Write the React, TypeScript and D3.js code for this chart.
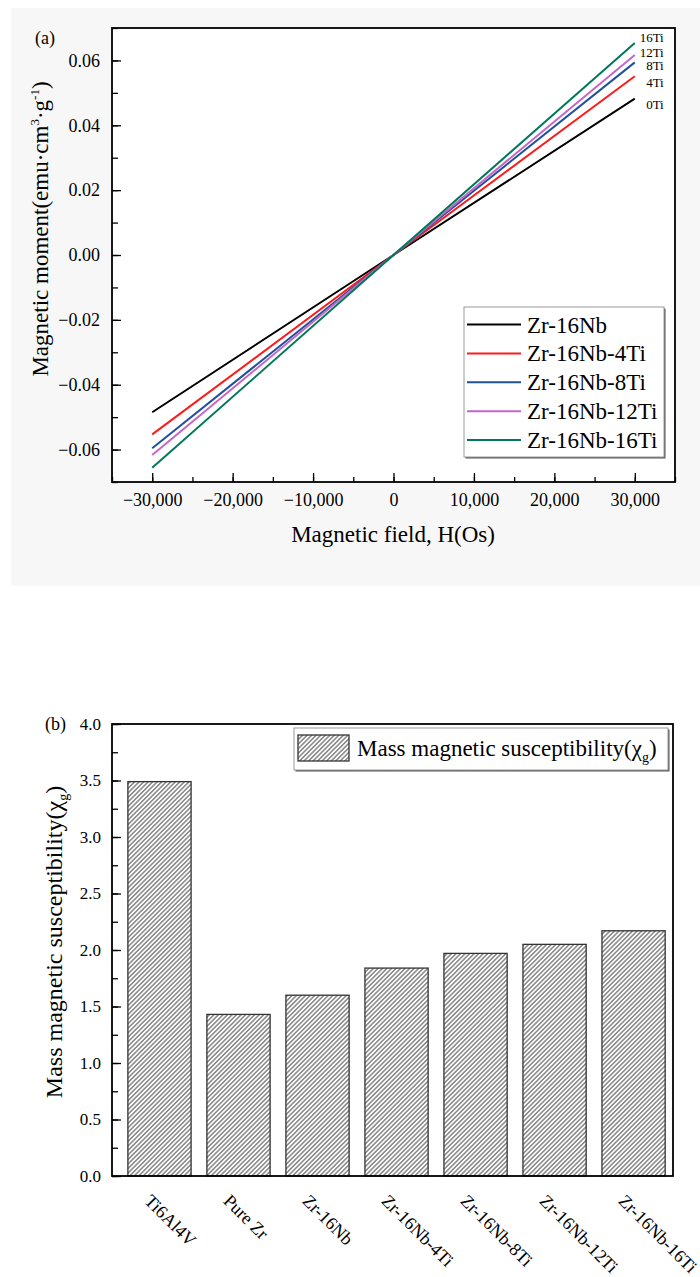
import { useEffect, useRef } from "react";
import * as d3 from "d3";

// (a) magnetisation curves, M vs H
const fieldPoints = [-30000, 0, 30000];
const seriesNames = ["Zr-16Nb", "Zr-16Nb-4Ti", "Zr-16Nb-8Ti", "Zr-16Nb-12Ti", "Zr-16Nb-16Ti"];
const endLabels = ["0Ti", "4Ti", "8Ti", "12Ti", "16Ti"];
const moment0Ti = [-0.0485, 0, 0.0482];
const moment4Ti = [-0.0553, 0, 0.0551];
const moment8Ti = [-0.0596, 0, 0.0594];
const moment12Ti = [-0.0617, 0, 0.0617];
const moment16Ti = [-0.0656, 0, 0.0654];
const fieldTicks = [-30000, -20000, -10000, 0, 10000, 20000, 30000];
const momentTicks = [-0.06, -0.04, -0.02, 0, 0.02, 0.04, 0.06];

// (b) mass magnetic susceptibility
const alloys = ["Ti6Al4V", "Pure Zr", "Zr-16Nb", "Zr-16Nb-4Ti", "Zr-16Nb-8Ti", "Zr-16Nb-12Ti", "Zr-16Nb-16Ti"];
const susceptibility = [3.49, 1.43, 1.6, 1.84, 1.97, 2.05, 2.17];
const chiTicks = [0, 0.5, 1, 1.5, 2, 2.5, 3, 3.5, 4];

const colors = ["#000000", "#ff1a1a", "#1f519c", "#c466c4", "#00785a"];
const FONT = "'Liberation Serif', 'Times New Roman', serif";

const App = () => {
  const svgRef = useRef<SVGSVGElement>(null);

  useEffect(() => {
    const svg = d3.select(svgRef.current);
    svg.selectAll("*").remove();
    svg.style("font-family", FONT);

    const defs = svg.append("defs");
    const hatch = defs
      .append("pattern")
      .attr("id", "hatch")
      .attr("patternUnits", "userSpaceOnUse")
      .attr("width", 3.2)
      .attr("height", 3.2)
      .attr("patternTransform", "rotate(45)");
    hatch.append("rect").attr("width", 3.2).attr("height", 3.2).attr("fill", "#fff");
    hatch
      .append("line")
      .attr("x1", 1.6)
      .attr("x2", 1.6)
      .attr("y1", 0)
      .attr("y2", 3.2)
      .attr("stroke", "#333")
      .attr("stroke-width", 0.9);

    // ---------- panel (a) ----------
    const a = { left: 112, right: 675, top: 28, bottom: 482 };
    svg.append("rect").attr("x", 11).attr("y", 8).attr("width", 689).attr("height", 578).attr("fill", "#f7f7f7");
    svg
      .append("rect")
      .attr("x", a.left)
      .attr("y", a.top)
      .attr("width", a.right - a.left)
      .attr("height", a.bottom - a.top)
      .attr("fill", "#fff");

    const x = d3.scaleLinear().domain([-35000, 35000]).range([a.left, a.right]);
    const y = d3.scaleLinear().domain([-0.07, 0.07]).range([a.bottom, a.top]);

    const styleAxis = (g, size) => {
      g.select(".domain").remove();
      g.attr("font-family", FONT).attr("font-size", size);
      g.selectAll("line").attr("stroke", "#000").attr("stroke-width", 1.3);
      g.selectAll("text").attr("fill", "#000").attr("font-family", FONT);
    };

    svg
      .append("g")
      .attr("transform", `translate(0,${a.bottom})`)
      .call(d3.axisBottom(x).tickValues(d3.range(-35000, 35001, 5000)).tickSize(-5).tickFormat(() => ""))
      .call((g) => styleAxis(g, 18));
    svg
      .append("g")
      .attr("transform", `translate(0,${a.bottom})`)
      .call(d3.axisBottom(x).tickValues(fieldTicks).tickSize(-9).tickPadding(11).tickFormat(d3.format(",")))
      .call((g) => styleAxis(g, 18));

    svg
      .append("g")
      .attr("transform", `translate(${a.left},0)`)
      .call(d3.axisLeft(y).tickValues(d3.range(-7, 8).map((d) => d / 100)).tickSize(-6).tickFormat(() => ""))
      .call((g) => styleAxis(g, 18));
    svg
      .append("g")
      .attr("transform", `translate(${a.left},0)`)
      .call(d3.axisLeft(y).tickValues(momentTicks).tickSize(-9).tickPadding(12).tickFormat(d3.format(".2f")))
      .call((g) => styleAxis(g, 18));

    const moments = [moment0Ti, moment4Ti, moment8Ti, moment12Ti, moment16Ti];
    const line = d3
      .line<number>()
      .x((_, i) => x(fieldPoints[i]))
      .y((d) => y(d));
    moments.forEach((m, i) => {
      svg
        .append("path")
        .datum(m)
        .attr("fill", "none")
        .attr("stroke", colors[i])
        .attr("stroke-width", 2)
        .attr("d", line);
    });

    // end-of-line labels, placed in data units just right of the line ends
    const labelY = [0.0463, 0.0531, 0.0583, 0.0625, 0.0671];
    endLabels.forEach((t, i) => {
      svg
        .append("text")
        .attr("x", x(33600))
        .attr("y", y(labelY[i]))
        .attr("dy", "0.35em")
        .attr("text-anchor", "end")
        .attr("font-size", 13)
        .text(t);
    });

    svg
      .append("rect")
      .attr("x", a.left)
      .attr("y", a.top)
      .attr("width", a.right - a.left)
      .attr("height", a.bottom - a.top)
      .attr("fill", "none")
      .attr("stroke", "#000")
      .attr("stroke-width", 1.8);

    // legend
    const lg = svg.append("g").attr("transform", "translate(464,307)");
    lg.append("rect").attr("x", 1.5).attr("y", 1.5).attr("width", 200).attr("height", 150).attr("fill", "#555");
    lg.append("rect").attr("width", 200).attr("height", 150).attr("fill", "#fff").attr("stroke", "#999").attr("stroke-width", 1);
    seriesNames.forEach((n, i) => {
      const ry = 17.5 + i * 28.9;
      lg.append("line").attr("x1", 3).attr("x2", 57).attr("y1", ry).attr("y2", ry).attr("stroke", colors[i]).attr("stroke-width", 2);
      lg.append("text").attr("x", 63).attr("y", ry).attr("dy", "0.35em").attr("font-size", 23).text(n);
    });

    svg.append("text").attr("x", 35).attr("y", 44).attr("font-size", 18).text("(a)");

    svg
      .append("text")
      .attr("x", (a.left + a.right) / 2 - 0.5)
      .attr("y", 542)
      .attr("text-anchor", "middle")
      .attr("font-size", 23)
      .text("Magnetic field, H(Os)");

    const yt = svg
      .append("text")
      .attr("transform", "translate(48,229) rotate(-90)")
      .attr("text-anchor", "middle")
      .attr("font-size", 23);
    yt.append("tspan").text("Magnetic moment(emu·cm");
    yt.append("tspan").attr("dy", -9).attr("font-size", 13).text("3");
    yt.append("tspan").attr("dy", 9).text("·g");
    yt.append("tspan").attr("dy", -9).attr("font-size", 13).text("-1");
    yt.append("tspan").attr("dy", 9).text(")");

    // ---------- panel (b) ----------
    const b = { left: 112, right: 673, top: 724, bottom: 1176 };
    const xb = d3.scaleBand().domain(alloys).range([b.left, b.right]).paddingInner(0.2).paddingOuter(0.15).align(0.67);
    const yb = d3.scaleLinear().domain([0, 4]).range([b.bottom, b.top]);

    svg
      .append("g")
      .attr("transform", `translate(${b.left},0)`)
      .call(d3.axisLeft(yb).tickValues(d3.range(0, 4.01, 0.25)).tickSize(-6).tickFormat(() => ""))
      .call((g) => styleAxis(g, 17));
    svg
      .append("g")
      .attr("transform", `translate(${b.left},0)`)
      .call(d3.axisLeft(yb).tickValues(chiTicks).tickSize(-9).tickPadding(11).tickFormat(d3.format(".1f")))
      .call((g) => styleAxis(g, 17));

    svg
      .append("g")
      .selectAll("rect")
      .data(alloys)
      .join("rect")
      .attr("x", (d) => xb(d))
      .attr("y", (_, i) => yb(susceptibility[i]))
      .attr("width", xb.bandwidth())
      .attr("height", (_, i) => yb(0) - yb(susceptibility[i]))
      .attr("fill", "url(#hatch)")
      .attr("stroke", "#333")
      .attr("stroke-width", 1.3);

    svg
      .append("g")
      .selectAll("text")
      .data(alloys)
      .join("text")
      .attr("transform", (d) => `translate(${xb(d) + xb.bandwidth() / 2 - 16},1202) rotate(45)`)
      .attr("font-size", 18)
      .text((d) => d);

    svg
      .append("rect")
      .attr("x", b.left)
      .attr("y", b.top)
      .attr("width", b.right - b.left)
      .attr("height", b.bottom - b.top)
      .attr("fill", "none")
      .attr("stroke", "#000")
      .attr("stroke-width", 1.8);

    const lb = svg.append("g").attr("transform", "translate(294,728)");
    lb.append("rect").attr("x", 1.5).attr("y", 1.5).attr("width", 374).attr("height", 42).attr("fill", "#555");
    lb.append("rect").attr("width", 374).attr("height", 42).attr("fill", "#fff").attr("stroke", "#999").attr("stroke-width", 1);
    lb.append("rect")
      .attr("x", 4)
      .attr("y", 7)
      .attr("width", 51)
      .attr("height", 26)
      .attr("fill", "url(#hatch)")
      .attr("stroke", "#333")
      .attr("stroke-width", 1.3);
    const lt = lb.append("text").attr("x", 63).attr("y", 28).attr("font-size", 23);
    lt.append("tspan").text("Mass magnetic susceptibility(χ");
    lt.append("tspan").attr("dy", 6).attr("font-size", 14).text("g");
    lt.append("tspan").attr("dy", -6).text(")");

    svg.append("text").attr("x", 45).attr("y", 730).attr("font-size", 18).text("(b)");

    const yb2 = svg
      .append("text")
      .attr("transform", "translate(62,942) rotate(-90)")
      .attr("text-anchor", "middle")
      .attr("font-size", 24);
    yb2.append("tspan").text("Mass magnetic susceptibility(χ");
    yb2.append("tspan").attr("dy", 6).attr("font-size", 14).text("g");
    yb2.append("tspan").attr("dy", -6).text(")");
  }, []);

  return (
    <div style={{ position: "absolute", left: 0, top: 0 }}>
      <svg ref={svgRef} width={700} height={1277} style={{ display: "block", background: "#fff" }} />
    </div>
  );
};

export default App;
